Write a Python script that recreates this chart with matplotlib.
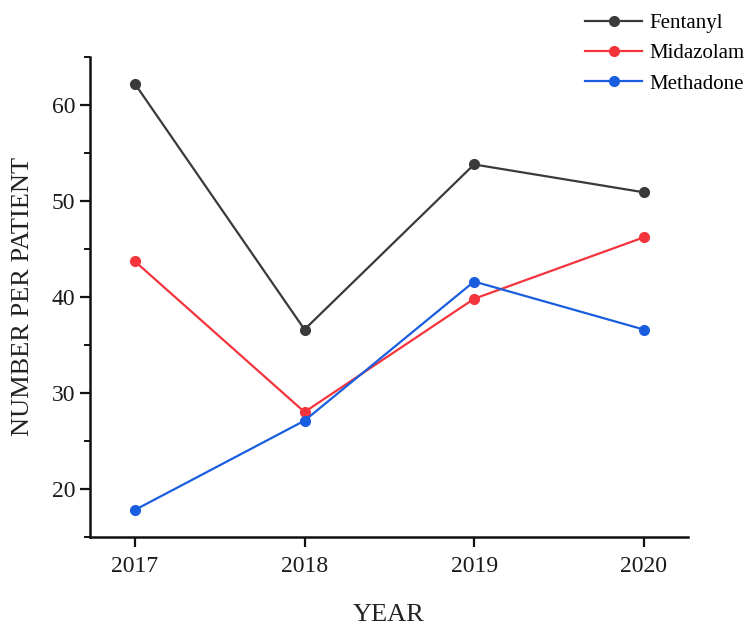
import matplotlib
matplotlib.use("Agg")
import matplotlib.pyplot as plt
from matplotlib.ticker import MultipleLocator

plt.rcParams['font.family'] = ['Liberation Serif', 'DejaVu Serif']

years = [2017, 2018, 2019, 2020]
fentanyl = [62.2, 36.6, 53.8, 50.9]
midazolam = [43.7, 28.0, 39.8, 46.2]
methadone = [17.8, 27.1, 41.6, 36.6]

series = [("Fentanyl", fentanyl, "#3a3a3a"),
          ("Midazolam", midazolam, "#f4343c"),
          ("Methadone", methadone, "#1a5ee0")]

fig = plt.figure(figsize=(7.5, 6.33), dpi=100)
ax = fig.add_axes([0.12, 0.152, 0.797, 0.758])

for name, vals, col in series:
    ax.plot(years, vals, color=col, lw=1.6, marker='o', markersize=7, label=name)

ax.set_xlim(2016.735, 2020.26)
ax.set_ylim(15, 65)
ax.set_xticks(years)
ax.yaxis.set_major_locator(MultipleLocator(10))
ax.yaxis.set_minor_locator(MultipleLocator(5))
ax.set_yticks([20, 30, 40, 50, 60])

for s in ['top', 'right']:
    ax.spines[s].set_visible(False)
for s in ['left', 'bottom']:
    ax.spines[s].set_linewidth(1.8)
    ax.spines[s].set_color('#111111')

ax.tick_params(axis='both', which='major', direction='out', length=7, width=1.6,
               labelsize=17, colors='#111111', labelcolor='#1a1a1a')
ax.tick_params(axis='y', which='minor', direction='out', length=4, width=1.4, colors='#111111')
ax.tick_params(axis='x', pad=7)

ax.set_xlabel("YEAR", fontsize=19, color='#222222', labelpad=19)
ax.set_ylabel("NUMBER PER PATIENT", fontsize=19, color='#222222', labelpad=13)

fig.legend(loc='upper left', bbox_to_anchor=(0.78, 0.979), frameon=False,
           fontsize=15, handlelength=2.75, handletextpad=0.35, labelspacing=0.52,
           borderaxespad=0, borderpad=0)

fig.savefig("out.png", dpi=100)
